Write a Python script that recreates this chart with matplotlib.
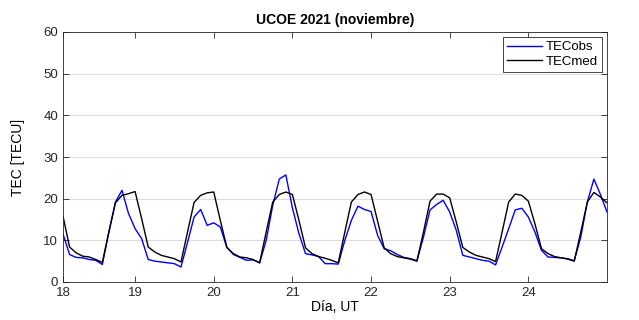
import matplotlib
matplotlib.use("Agg")
import matplotlib.pyplot as plt
import numpy as np

plt.rcParams["font.family"] = ["Liberation Sans", "DejaVu Sans"]

# 2-hourly samples, 18 Nov 02 UT .. 25 Nov 00 UT
hours = np.arange(2, 170, 2)
days = 18 + hours / 24

tec_obs = [
    11.5, 6.6, 5.9, 5.8, 5.4, 5.2, 4.2, 12.0, 19.2, 22.0, 16.4, 12.8,
    10.4, 5.4, 5.0, 4.8, 4.6, 4.4, 3.6, 9.5, 15.6, 17.4, 13.6, 14.2,
    13.2, 8.3, 6.6, 5.9, 5.2, 5.3, 4.6, 10.0, 18.4, 24.7, 25.7, 17.8,
    11.6, 6.8, 6.5, 6.1, 4.4, 4.4, 4.3, 10.0, 14.8, 18.2, 17.4, 16.9,
    11.2, 8.0, 7.5, 6.6, 5.9, 5.6, 5.1, 10.8, 17.3, 18.6, 19.6, 16.8,
    12.4, 6.4, 6.0, 5.6, 5.2, 5.0, 4.1, 8.4, 12.8, 17.3, 17.7, 15.6,
    12.0, 7.6, 6.0, 5.9, 5.8, 5.6, 5.1, 10.8, 19.2, 24.7, 21.0, 16.8,
]
tec_med = [
    15.8, 8.4, 7.0, 6.2, 6.0, 5.4, 4.7, 12.0, 19.0, 20.8, 21.2, 21.7,
    15.2, 8.4, 7.2, 6.4, 6.0, 5.6, 4.8, 12.0, 19.1, 20.8, 21.4, 21.6,
    14.8, 8.3, 6.8, 6.0, 5.8, 5.4, 4.6, 12.0, 19.2, 21.0, 21.6, 21.0,
    14.8, 8.2, 6.8, 6.1, 5.7, 5.2, 4.6, 12.0, 19.2, 21.0, 21.6, 21.0,
    14.6, 8.2, 6.8, 6.1, 5.8, 5.5, 5.0, 12.0, 19.4, 21.1, 21.1, 20.2,
    14.4, 8.3, 7.2, 6.4, 6.0, 5.6, 4.9, 12.0, 19.2, 21.1, 20.8, 19.4,
    14.0, 8.0, 6.8, 6.1, 5.8, 5.5, 5.0, 12.0, 19.2, 21.5, 20.4, 19.0,
]
day_labels = ["18", "19", "20", "21", "22", "23", "24"]

fig = plt.figure(figsize=(6.39, 3.2), dpi=100)
ax = fig.add_axes([63 / 639, 38 / 320, 544 / 639, 250 / 320])

ax.plot(days, tec_obs, color="#0000ff", lw=1.0, label="TECobs")
ax.plot(days, tec_med, color="black", lw=1.0, label="TECmed")

ax.set_xlim(days[0], days[-1])
ax.set_ylim(0, 60)
ax.set_xticks([days[0]] + list(range(19, 25)), day_labels)
ax.set_yticks(range(0, 61, 10))
ax.yaxis.grid(True, color="#dcdcdc", lw=0.8)
ax.set_axisbelow(True)
ax.tick_params(direction="in", top=True, right=True, labelsize=9.5,
               colors="#262626", length=4, width=0.6)
for spine in ax.spines.values():
    spine.set_color("#262626")
    spine.set_linewidth(0.6)

ax.set_title("UCOE 2021 (noviembre)", fontsize=10, fontweight="bold", pad=6)
ax.set_xlabel("Día, UT", fontsize=10, labelpad=1)
ax.set_ylabel("TEC [TECU]", fontsize=10, labelpad=13)

leg = ax.legend(loc="upper right", fontsize=9.5, fancybox=False,
                handlelength=2.6, borderaxespad=0.4, borderpad=0.3,
                labelspacing=0.15, handletextpad=0.3, framealpha=1)
leg.get_frame().set_edgecolor("#262626")
leg.get_frame().set_linewidth(0.6)

fig.savefig("out.png", dpi=100)
